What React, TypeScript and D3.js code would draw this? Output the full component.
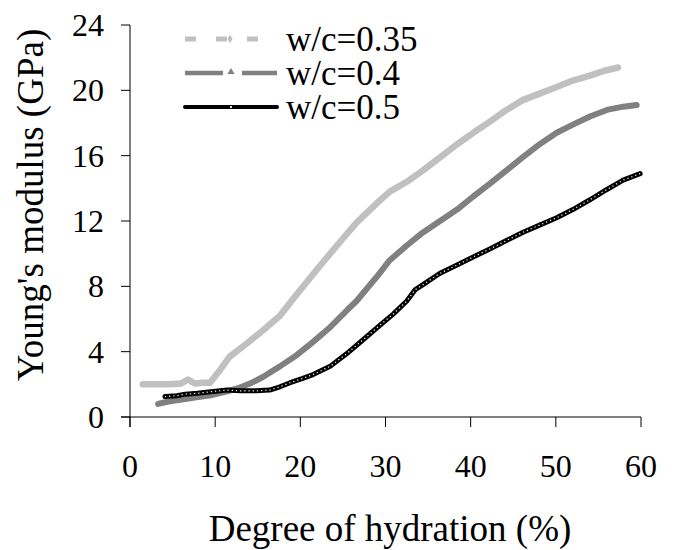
import React from "react";
import * as d3 from "d3";

const xTicks = [0, 10, 20, 30, 40, 50, 60];
const yTicks = [0, 4, 8, 12, 16, 20, 24];
const seriesNames = ["w/c=0.35", "w/c=0.4", "w/c=0.5"];

const hyd035 = [1.5, 3, 4.5, 6, 6.8, 7.6, 8.5, 9.4, 10.6, 11.7, 13.7, 15.6, 17.6, 19.1, 20.5, 21.9, 24.3, 26.6, 29, 30.5, 32.5, 34.4, 36.4, 38.4, 40.3, 42.3, 44.2, 46.1, 48.1, 50.1, 52, 54, 55.7, 57.3];
const mod035 = [2.0, 2.0, 2.0, 2.05, 2.3, 2.05, 2.1, 2.1, 2.9, 3.7, 4.5, 5.3, 6.2, 7.2, 8.1, 9.0, 10.5, 11.9, 13.1, 13.8, 14.4, 15.1, 15.9, 16.7, 17.4, 18.1, 18.8, 19.4, 19.8, 20.2, 20.6, 20.9, 21.2, 21.4];

const hyd04 = [3.3, 4.5, 5.9, 7.8, 9.7, 11.3, 12.9, 14.3, 15.6, 17.6, 19.6, 21.5, 23.5, 25.5, 26.6, 29, 30.5, 32.5, 34.4, 36.4, 38.4, 40.3, 42.3, 44.2, 46.1, 48.1, 50.1, 52, 54, 56, 57.9, 59.5];
const mod04 = [0.8, 0.95, 1.05, 1.2, 1.35, 1.55, 1.8, 2.1, 2.45, 3.1, 3.8, 4.6, 5.5, 6.55, 7.1, 8.6, 9.6, 10.5, 11.3, 12.0, 12.7, 13.5, 14.3, 15.1, 15.9, 16.7, 17.4, 17.9, 18.4, 18.8, 19.0, 19.1];

const hyd05 = [4.1, 5.5, 6.5, 7.9, 9.5, 11.4, 13, 14.8, 16.4, 17.6, 18.8, 20.2, 21.5, 23.5, 25.5, 27.3, 29.3, 30.9, 32.5, 33.5, 34.4, 36.4, 38.4, 40.3, 42.3, 44.2, 46.1, 48.1, 50.1, 52, 54, 55.9, 57.9, 59.9];
const mod05 = [1.25, 1.3, 1.4, 1.45, 1.55, 1.65, 1.6, 1.6, 1.65, 1.85, 2.1, 2.35, 2.6, 3.1, 3.9, 4.7, 5.6, 6.3, 7.1, 7.8, 8.1, 8.8, 9.3, 9.8, 10.3, 10.8, 11.3, 11.75, 12.2, 12.7, 13.3, 13.9, 14.5, 14.9];

const FONT = "serif";

export default function App() {
  const x = d3.scaleLinear().domain([0, 60]).range([130, 641]);
  const y = d3.scaleLinear().domain([0, 24]).range([417, 25]);
  const line = d3
    .line<[number, number]>()
    .x((d) => x(d[0]))
    .y((d) => y(d[1]));

  const s035 = hyd035.map((v, i) => [v, mod035[i]] as [number, number]);
  const s04 = hyd04.map((v, i) => [v, mod04[i]] as [number, number]);
  const s05 = hyd05.map((v, i) => [v, mod05[i]] as [number, number]);

  const legendY = [39, 73, 107];
  const lx0 = 185;
  const lx1 = 277;
  const lmid = (lx0 + lx1) / 2;

  return (
    <svg width={678} height={550} style={{ display: "block", position: "absolute", left: 0, top: 0 }} fontFamily={FONT}>
      <rect width={678} height={550} fill="#fff" />
      {/* curves */}
      <path d={line(s035) || ""} fill="none" stroke="#c0c0c0" strokeWidth={6.5} strokeLinejoin="round" strokeLinecap="round" />
      <path d={line(s04) || ""} fill="none" stroke="#808080" strokeWidth={6} strokeLinejoin="round" strokeLinecap="round" />
      <path d={line(s05) || ""} fill="none" stroke="#000" strokeWidth={5} strokeLinejoin="round" strokeLinecap="round" />
      <path d={line(s05) || ""} fill="none" stroke="#fff" strokeWidth={1.2} strokeDasharray="1.2 3" />

      {/* axes */}
      <line x1={130} x2={130} y1={y(24)} y2={y(0) + 10} stroke="#000" strokeWidth={1} />
      <line x1={x(0) - 9} x2={x(60)} y1={417} y2={417} stroke="#000" strokeWidth={1} />
      {yTicks.map((t) => (
        <line key={"yt" + t} x1={121} x2={130} y1={y(t)} y2={y(t)} stroke="#000" strokeWidth={1} />
      ))}
      {yTicks.map((t) => (
        <text key={"yl" + t} x={104} y={y(t) + 11} textAnchor="end" fontSize={32} fill="#000" fontFamily={FONT}>
          {String(t)}
        </text>
      ))}
      {xTicks.map((t) => (
        <line key={"xt" + t} x1={x(t)} x2={x(t)} y1={417} y2={427} stroke="#000" strokeWidth={1} />
      ))}
      {xTicks.map((t) => (
        <text key={"xl" + t} x={x(t)} y={477} textAnchor="middle" fontSize={32} fill="#000" fontFamily={FONT}>
          {String(t)}
        </text>
      ))}

      {/* axis titles */}
      <text x={390} y={541} textAnchor="middle" fontSize={37} fill="#000" fontFamily={FONT}>
        Degree of hydration (%)
      </text>
      <text transform="translate(43,205) rotate(-90)" textAnchor="middle" fontSize={37} fill="#000" fontFamily={FONT}>
        Young's modulus (GPa)
      </text>

      {/* legend */}
      <line x1={lx0} x2={lx1} y1={legendY[0]} y2={legendY[0]} stroke="#c0c0c0" strokeWidth={5} strokeDasharray="11 20" />
      <path d={d3.symbol().type(d3.symbolDiamond).size(22)() || ""} transform={`translate(${lmid - 1},${legendY[0]})`} fill="#c0c0c0" />
      <line x1={lx0} x2={lmid - 8} y1={legendY[1]} y2={legendY[1]} stroke="#808080" strokeWidth={4.5} />
      <line x1={lmid + 11} x2={lx1} y1={legendY[1]} y2={legendY[1]} stroke="#808080" strokeWidth={4.5} />
      <path d={d3.symbol().type(d3.symbolTriangle).size(22)() || ""} transform={`translate(${lmid},${legendY[1] - 1})`} fill="#808080" />
      <line x1={lx0} x2={lx1} y1={legendY[2]} y2={legendY[2]} stroke="#000" strokeWidth={4} strokeLinecap="round" />
      <circle cx={lmid} cy={legendY[2]} r={1.6} fill="#fff" stroke="#000" strokeWidth={1} />
      {seriesNames.map((n, i) => (
        <text key={n} x={286} y={legendY[i] + 12} fontSize={35} fill="#000" fontFamily={FONT}>
          {n}
        </text>
      ))}
    </svg>
  );
}
